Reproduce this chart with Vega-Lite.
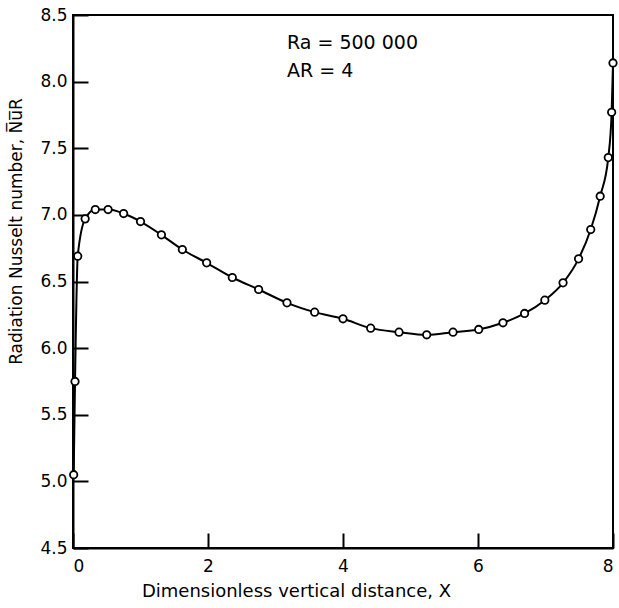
{
  "$schema": "https://vega.github.io/schema/vega-lite/v6.json",
  "width": 540,
  "height": 533,
  "autosize": "none",
  "padding": {"left": 73, "top": 15, "right": 6, "bottom": 60},
  "background": "white",
  "config": {
    "view": {"stroke": "black", "strokeWidth": 2},
    "font": "DejaVu Sans",
    "axis": {
      "grid": false,
      "domainColor": "black",
      "domainWidth": 2,
      "tickColor": "black",
      "tickWidth": 2,
      "tickSize": -15,
      "labelColor": "black",
      "labelFontSize": 17,
      "labelFont": "DejaVu Sans",
      "titleColor": "black",
      "titleFont": "DejaVu Sans",
      "titleFontSize": 18,
      "titleFontWeight": "normal"
    }
  },
  "datasets": {
    "pts": [
      {"x": 0.01, "y": 5.05},
      {"x": 0.03, "y": 5.75},
      {"x": 0.07, "y": 6.69},
      {"x": 0.18, "y": 6.97},
      {"x": 0.33, "y": 7.04},
      {"x": 0.52, "y": 7.04},
      {"x": 0.75, "y": 7.01},
      {"x": 1.0, "y": 6.95},
      {"x": 1.31, "y": 6.85},
      {"x": 1.62, "y": 6.74},
      {"x": 1.98, "y": 6.64},
      {"x": 2.36, "y": 6.53},
      {"x": 2.75, "y": 6.44},
      {"x": 3.17, "y": 6.34},
      {"x": 3.58, "y": 6.27},
      {"x": 4.0, "y": 6.22},
      {"x": 4.41, "y": 6.15},
      {"x": 4.83, "y": 6.12},
      {"x": 5.24, "y": 6.1},
      {"x": 5.63, "y": 6.12},
      {"x": 6.01, "y": 6.14},
      {"x": 6.37, "y": 6.19},
      {"x": 6.69, "y": 6.26},
      {"x": 6.99, "y": 6.36},
      {"x": 7.26, "y": 6.49},
      {"x": 7.49, "y": 6.67},
      {"x": 7.67, "y": 6.89},
      {"x": 7.81, "y": 7.14},
      {"x": 7.93, "y": 7.43},
      {"x": 7.98, "y": 7.77},
      {"x": 8.0, "y": 8.14}
    ],
    "notes": [
      {"x": 3.17, "y": 8.29, "label": "Ra = 500 000"},
      {"x": 3.17, "y": 8.08, "label": "AR = 4"}
    ]
  },
  "layer": [
    {
      "data": {"name": "pts"},
      "mark": {"type": "line", "color": "black", "strokeWidth": 2, "interpolate": "monotone", "clip": false},
      "encoding": {
        "x": {
          "field": "x", "type": "quantitative",
          "scale": {"domain": [0, 8], "nice": false},
          "axis": {"values": [0, 2, 4, 6, 8], "format": "d", "title": "Dimensionless vertical distance, X", "titlePadding": 8, "titleX": 223, "labelPadding": 25}
        },
        "y": {
          "field": "y", "type": "quantitative",
          "scale": {"domain": [4.5, 8.5], "nice": false, "zero": false},
          "axis": {"values": [4.5, 5, 5.5, 6, 6.5, 7, 7.5, 8, 8.5], "format": ".1f", "title": "Radiation Nusselt number, N̅u̅R", "titleFontSize": 17, "titleY": 216, "titlePadding": 14, "labelPadding": 21}
        }
      }
    },
    {
      "data": {"name": "pts"},
      "mark": {"type": "point", "shape": "circle", "filled": true, "fill": "white", "stroke": "black", "strokeWidth": 1.8, "size": 55, "opacity": 1, "clip": false},
      "encoding": {
        "x": {"field": "x", "type": "quantitative"},
        "y": {"field": "y", "type": "quantitative"}
      }
    },
    {
      "data": {"name": "notes"},
      "mark": {"type": "text", "align": "left", "baseline": "middle", "fontSize": 19, "color": "black", "font": "DejaVu Sans"},
      "encoding": {
        "x": {"field": "x", "type": "quantitative"},
        "y": {"field": "y", "type": "quantitative"},
        "text": {"field": "label"}
      }
    }
  ]
}
